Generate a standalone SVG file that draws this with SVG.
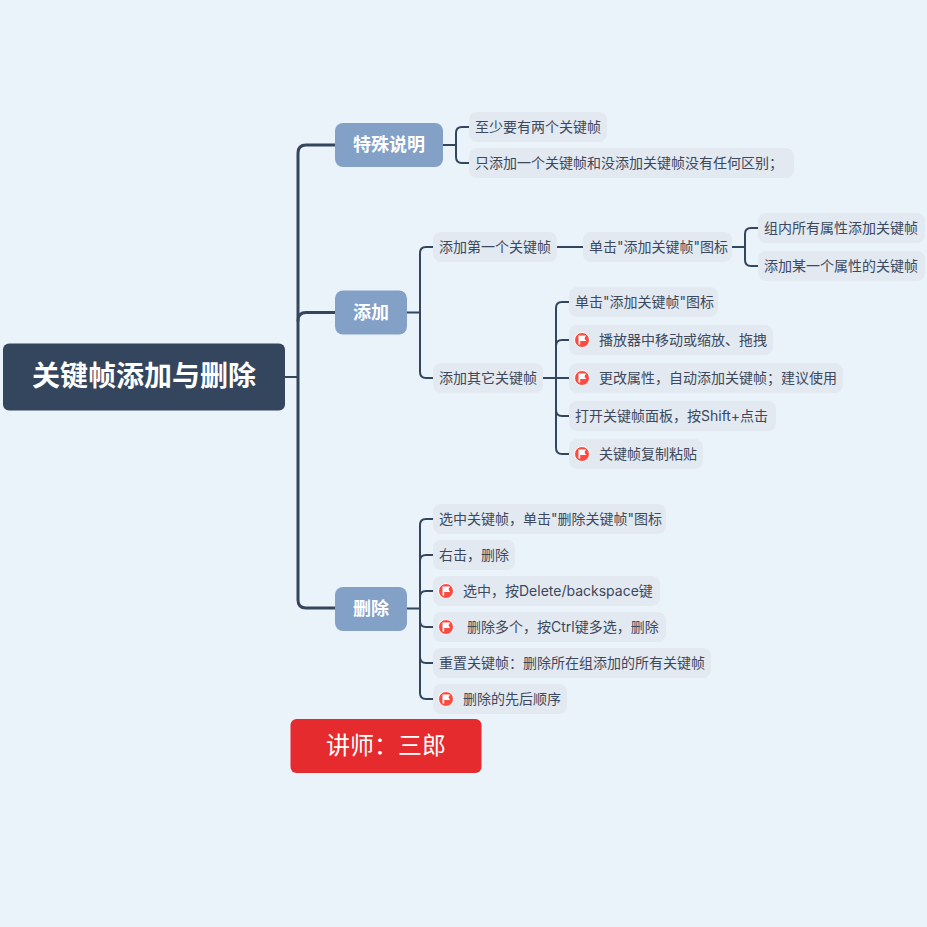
<svg xmlns="http://www.w3.org/2000/svg" width="927" height="927" viewBox="0 0 927 927">
<style>
text{font-family:"Inter","Noto Sans CJK SC","Noto Sans",sans-serif;text-anchor:middle;dominant-baseline:central}
.leaf rect{fill:#e3e9f1}
.leaf text{font-size:14px;fill:#3c485c;text-anchor:start}
.branch rect{fill:#83a0c7}
.branch text{font-size:18px;font-weight:700;fill:#fff}
.c{fill:none;stroke:#34455e;stroke-linecap:round}
.c1{stroke-width:3}
.c2{stroke-width:2}
.flag circle{fill:#fb4b42;stroke:#fff;stroke-width:1}
.flag path{fill:#fff}
</style>
<defs>
<g id="flag" class="flag"><circle r="7.500"/><path d="M-3.500-4.500H4L2.500-1.700 4 1H-1.800V4.500H-3.500Z"/></g>
</defs>
<rect width="927" height="927" fill="#ebf3fa"/>
<g id="connectors">
<path class="c c2" d="M285 377H298"/>
<path class="c c1" d="M335 145H306Q298 145 298 153V600Q298 608 306 608H335"/>
<path class="c c1" d="M335 312.500H306Q298 312.500 298 320.500"/>
<path class="c c2" d="M443 145H456"/>
<path class="c c2" d="M469 127H462Q456 127 456 133V157Q456 163 462 163H469"/>
<path class="c c2" d="M407 312.500H420"/>
<path class="c c2" d="M433 247H426Q420 247 420 253V372Q420 378 426 378H433"/>
<path class="c c2" d="M557 247H583"/>
<path class="c c2" d="M732 247H745"/>
<path class="c c2" d="M758 228H751Q745 228 745 234V260Q745 266 751 266H758"/>
<path class="c c2" d="M543 378H569"/>
<path class="c c2" d="M569 302H562Q556 302 556 308V448Q556 454 562 454H569"/>
<path class="c c2" d="M569 340H562Q556 340 556 346"/>
<path class="c c2" d="M569 416H562Q556 416 556 410"/>
<path class="c c2" d="M407 608.500H420"/>
<path class="c c2" d="M433 519H426Q420 519 420 525V693Q420 699 426 699H433"/>
<path class="c c2" d="M433 555H426Q420 555 420 561"/>
<path class="c c2" d="M433 591H426Q420 591 420 597"/>
<path class="c c2" d="M433 627H426Q420 627 420 621"/>
<path class="c c2" d="M433 663H426Q420 663 420 657"/>
</g>
<g id="root"><rect x="3" y="343.500" width="282" height="67" rx="6" fill="#34455e"/><text x="144" y="376" font-size="28" font-weight="700" fill="#fff">关键帧添加与删除</text></g>
<g id="b1" class="branch"><rect x="335" y="123" width="108" height="44" rx="8"/><text x="389" y="144">特殊说明</text></g>
<g id="b2" class="branch"><rect x="335" y="290.500" width="72" height="44" rx="8"/><text x="371" y="312">添加</text></g>
<g id="b3" class="branch"><rect x="335" y="587" width="72" height="44" rx="8"/><text x="371" y="608">删除</text></g>
<g id="n1" class="leaf"><rect x="469" y="112" width="138" height="30" rx="8"/><text x="475" y="126">至少要有两个关键帧</text></g>
<g id="n2" class="leaf"><rect x="469" y="148" width="325" height="30" rx="8"/><text x="475" y="162">只添加一个关键帧和没添加关键帧没有任何区别；</text></g>
<g id="n3" class="leaf"><rect x="433" y="232" width="124" height="30" rx="8"/><text x="439" y="246">添加第一个关键帧</text></g>
<g id="n4" class="leaf"><rect x="583" y="232" width="149" height="30" rx="8"/><text x="589" y="246">单击"添加关键帧"图标</text></g>
<g id="n5" class="leaf"><rect x="758" y="213" width="167" height="30" rx="8"/><text x="764" y="227">组内所有属性添加关键帧</text></g>
<g id="n6" class="leaf"><rect x="758" y="251" width="167" height="30" rx="8"/><text x="764" y="265">添加某一个属性的关键帧</text></g>
<g id="n7" class="leaf"><rect x="433" y="363" width="110" height="30" rx="8"/><text x="439" y="377">添加其它关键帧</text></g>
<g id="n8" class="leaf"><rect x="569" y="287" width="149" height="30" rx="8"/><text x="575" y="301">单击"添加关键帧"图标</text></g>
<g id="n9" class="leaf"><rect x="569" y="325" width="204" height="30" rx="8"/><use href="#flag" x="582" y="340"/><text x="599" y="339">播放器中移动或缩放、拖拽</text></g>
<g id="n10" class="leaf"><rect x="569" y="363" width="274" height="30" rx="8"/><use href="#flag" x="582" y="378"/><text x="599" y="377">更改属性，自动添加关键帧；建议使用</text></g>
<g id="n11" class="leaf"><rect x="569" y="401" width="207" height="30" rx="8"/><text x="575" y="415">打开关键帧面板，按Shift+点击</text></g>
<g id="n12" class="leaf"><rect x="569" y="439" width="134" height="30" rx="8"/><use href="#flag" x="582" y="454"/><text x="599" y="453">关键帧复制粘贴</text></g>
<g id="n13" class="leaf"><rect x="433" y="504" width="233" height="30" rx="8"/><text x="439" y="518">选中关键帧，单击"删除关键帧"图标</text></g>
<g id="n14" class="leaf"><rect x="433" y="540" width="82" height="30" rx="8"/><text x="439" y="554">右击，删除</text></g>
<g id="n15" class="leaf"><rect x="433" y="576" width="227" height="30" rx="8"/><use href="#flag" x="446" y="591"/><text x="463" y="590">选中，按Delete/backspace键</text></g>
<g id="n16" class="leaf"><rect x="433" y="612" width="233" height="30" rx="8"/><use href="#flag" x="446" y="627"/><text x="467" y="626">删除多个，按Ctrl键多选，删除</text></g>
<g id="n17" class="leaf"><rect x="433" y="648" width="278" height="30" rx="8"/><text x="439" y="662">重置关键帧：删除所在组添加的所有关键帧</text></g>
<g id="n18" class="leaf"><rect x="433" y="684" width="134" height="30" rx="8"/><use href="#flag" x="446" y="699"/><text x="463" y="698">删除的先后顺序</text></g>
<g id="teacher"><rect x="290.500" y="719" width="191" height="54" rx="6" fill="#e52b2d"/><text x="386" y="745" font-size="24" fill="#fff">讲师：三郎</text></g>
</svg>
